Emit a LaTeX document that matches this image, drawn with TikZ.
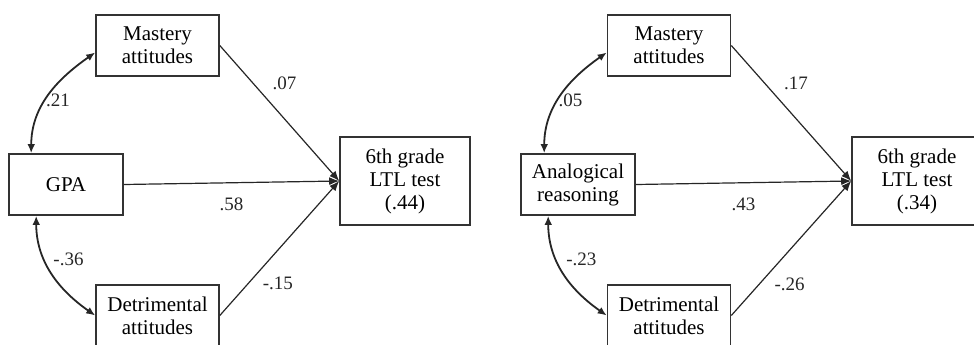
\documentclass[tikz,border=0pt]{standalone}
\usepackage{fontspec}
\setmainfont{Liberation Serif}
\usetikzlibrary{arrows.meta}

\tikzset{
  var/.style={draw=black!80,line width=0.8pt,align=center,font=\fontsize{10.5}{11.5}\selectfont},
  path/.style={draw=black!85,line width=0.6pt,-{Latex[length=5pt,width=4pt]}},
  cov/.style={draw=black!85,line width=0.9pt,{Latex[length=4.5pt,width=3.8pt]}-{Latex[length=4.5pt,width=3.8pt]}},
  coef/.style={font=\fontsize{9.5}{11}\selectfont,text=black!85}
}

\begin{document}
\begin{tikzpicture}[x=0.5pt,y=-0.5pt]
\clip (0,0) rectangle (974,344);

% left model
\node[var,minimum width=61.5pt,minimum height=30.5pt] (ms) at (157.5,45.5) {Mastery\\attitudes};
\node[var,minimum width=57pt,minimum height=30.5pt] (gpa) at (66,184.5) {GPA};
\node[var,minimum width=61.5pt,minimum height=30.5pt] (dt) at (157.5,315.5) {Detrimental\\attitudes};
\node[var,minimum width=65pt,minimum height=44pt] (out) at (405,181) {6th grade\\LTL test\\(.44)};

\draw[path] (ms.east) -- node[coef,pos=0.28,right=6pt] {.07} (out.west);
\draw[path] (gpa.east) -- node[coef,pos=0.5,below=4pt] {.58} (out.west);
\draw[path] (dt.east) -- node[coef,pos=0.3,below right=0pt,yshift=2.5pt] {-.15} (out.west);
\draw[cov] ([xshift=11.5pt]gpa.north west) to[out=90,in=215] node[coef,pos=0.45,right=-3.5pt] {.21} ([yshift=-3.5pt]ms.west);
\draw[cov] ([xshift=14pt]gpa.south west) to[out=-90,in=145] node[coef,pos=0.45,right=-1.5pt,yshift=4.5pt] {-.36} (dt.west);

% right model
\node[var,minimum width=61.5pt,minimum height=30.5pt] (ms2) at (669,45.5) {Mastery\\attitudes};
\node[var,minimum width=57pt,minimum height=30.5pt] (an) at (578,184.5) {Analogical\\reasoning};
\node[var,minimum width=61.5pt,minimum height=30.5pt] (dt2) at (669,315.5) {Detrimental\\attitudes};
\node[var,minimum width=65pt,minimum height=44pt] (out2) at (917,181) {6th grade\\LTL test\\(.34)};

\draw[path] (ms2.east) -- node[coef,pos=0.28,right=6pt] {.17} (out2.west);
\draw[path] (an.east) -- node[coef,pos=0.5,below=4pt] {.43} (out2.west);
\draw[path] (dt2.east) -- node[coef,pos=0.3,below right=0pt,yshift=2.5pt] {-.26} (out2.west);
\draw[cov] ([xshift=12pt]an.north west) to[out=90,in=215] node[coef,pos=0.45,right=-3.5pt] {.05} ([yshift=-3.5pt]ms2.west);
\draw[cov] ([xshift=14pt]an.south west) to[out=-90,in=145] node[coef,pos=0.45,right=-1pt,yshift=4.5pt] {-.23} (dt2.west);
\end{tikzpicture}
\end{document}
